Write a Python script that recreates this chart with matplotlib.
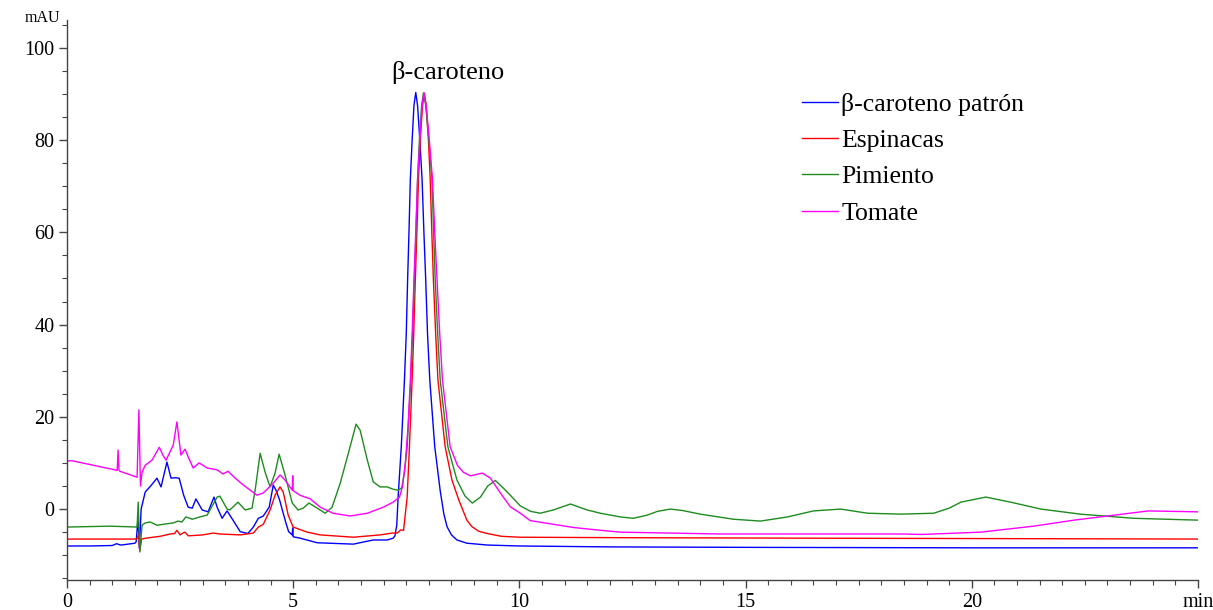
import matplotlib
matplotlib.use('Agg')
import matplotlib.pyplot as plt
from matplotlib.ticker import MultipleLocator

plt.rcParams['font.family'] = ['Liberation Serif', 'DejaVu Serif']

# retention time (min) / absorbance (mAU)
patron_t = [0, 0.5, 1.0, 1.1, 1.15, 1.2, 1.5, 1.53, 1.57, 1.60, 1.64, 1.73, 1.85, 1.99, 2.08,
            2.21, 2.30, 2.40, 2.48, 2.58, 2.68, 2.77, 2.85, 2.99, 3.12, 3.25, 3.32, 3.43, 3.54,
            3.67, 3.83, 4.0, 4.12, 4.23, 4.34, 4.47, 4.56, 4.62, 4.70, 4.76, 4.84, 4.90, 4.98,
            4.99, 5.0, 5.15, 5.53, 6.33, 6.77, 7.08, 7.21, 7.25, 7.29, 7.32, 7.39, 7.46, 7.50,
            7.53, 7.56, 7.59, 7.63, 7.67, 7.71, 7.75, 7.80, 7.85, 7.89, 7.93, 7.97, 8.02, 8.13,
            8.25, 8.33, 8.40, 8.50, 8.62, 8.84, 9.3, 10.0, 12.0, 15.0, 20.0, 25.0]
patron_y = [-8.0, -8.0, -7.9, -7.5, -7.7, -7.8, -7.4, -7.1, -2.0, -8.5, 0.0, 3.7, 5.0, 6.7, 4.8,
            10.2, 6.7, 6.8, 6.7, 3.0, 0.4, 0.2, 2.2, -0.2, -0.6, 2.6, 0.4, -2.0, -0.4,
            -2.4, -4.9, -5.3, -3.9, -2.0, -1.5, 0.4, 5.2, 4.1, 2.0, -0.2, -3.0, -4.9, -5.6,
            -4.1, -6.0, -6.3, -7.3, -7.6, -6.7, -6.7, -6.3, -5.8, -3.5, 2.6, 13.5, 28.0, 38.0,
            49.7, 60.0, 71.4, 80.0, 87.5, 90.3, 87.5, 80.0, 71.4, 60.0, 49.7, 38.0, 28.0, 13.5,
            4.0, -1.0, -3.8, -5.6, -6.7, -7.4, -7.8, -8.0, -8.2, -8.3, -8.4, -8.4]

espinacas_t = [0, 1.0, 1.5, 1.55, 1.58, 1.61, 1.65, 1.75, 1.9, 2.06, 2.28, 2.38, 2.43, 2.50,
               2.56, 2.61, 2.68, 3.0, 3.23, 3.38, 3.83, 4.12, 4.23, 4.34, 4.49, 4.60, 4.71,
               4.78, 4.89, 5.0, 5.31, 5.6, 6.33, 6.92, 7.19, 7.30, 7.38, 7.44, 7.52, 7.57,
               7.63, 7.665, 7.70, 7.735, 7.77, 7.81, 7.86, 7.90, 7.94, 7.99, 8.03, 8.065,
               8.10, 8.15, 8.20, 8.36, 8.51, 8.66, 8.84, 8.95, 9.10, 9.29, 9.6, 10.0, 12.2,
               16.0, 25.0]
espinacas_y = [-6.5, -6.5, -6.5, -6.4, -5.5, -9.0, -6.5, -6.3, -6.1, -5.9, -5.4, -5.3, -4.6, -5.6,
               -5.2, -5.0, -5.8, -5.6, -5.2, -5.4, -5.6, -5.2, -3.9, -3.3, -0.2, 3.0, 4.8,
               3.7, -1.3, -3.9, -5.0, -5.6, -6.1, -5.6, -5.2, -5.2, -4.5, -4.6, 2.6, 13.5,
               28.0, 38.0, 49.7, 60.0, 71.4, 80.0, 87.5, 90.2, 87.5, 80.0, 71.4, 60.0,
               49.7, 38.0, 28.0, 13.5, 6.3, 2.0, -2.4, -3.8, -4.8, -5.3, -5.9, -6.1, -6.2,
               -6.3, -6.5]

pimiento_t = [0, 0.95, 1.55, 1.575, 1.61, 1.66, 1.73, 1.84, 1.99, 2.35, 2.46, 2.54, 2.63, 2.77,
              2.94, 3.10, 3.32, 3.38, 3.54, 3.60, 3.78, 3.94, 4.09, 4.16, 4.27, 4.38, 4.49,
              4.60, 4.69, 4.82, 4.98, 5.11, 5.22, 5.35, 5.53, 5.71, 5.86, 6.04, 6.22, 6.39,
              6.48, 6.64, 6.77, 6.92, 7.08, 7.21, 7.32, 7.40, 7.46, 7.52, 7.60, 7.64, 7.68,
              7.715, 7.75, 7.79, 7.84, 7.88, 7.93, 8.00, 8.07, 8.105, 8.14, 8.195, 8.25, 8.42,
              8.62, 8.80, 8.96, 9.14, 9.30, 9.47, 9.65, 9.80, 10.02, 10.25, 10.46, 10.75,
              11.13, 11.5, 11.79, 12.23, 12.52, 12.83, 13.05, 13.34, 13.6, 14.0, 14.73, 15.33,
              15.93, 16.5, 17.1, 17.7, 18.43, 19.16, 19.5, 19.76, 20.31, 20.86, 21.53, 22.4,
              23.58, 25.0]
pimiento_y = [-3.9, -3.7, -3.9, 1.5, -9.3, -3.5, -3.0, -2.8, -3.5, -3.0, -2.6, -2.8, -1.7, -2.2,
              -1.7, -1.3, 2.6, 2.8, 0.0, -0.2, 1.5, -0.2, 0.2, 4.1, 12.1, 8.0, 4.8,
              7.8, 11.9, 7.4, 1.3, -0.2, 0.2, 1.3, 0.2, -0.9, 0.4, 5.6, 12.1, 18.4,
              17.1, 10.6, 5.9, 4.8, 4.8, 4.3, 4.1, 4.6, 8.0, 13.5, 28.0, 38.0, 49.7,
              60.0, 71.4, 80.0, 87.5, 90.2, 87.5, 80.0, 71.4, 60.0, 49.7, 38.0, 28.0, 13.5,
              6.3, 2.8, 1.3, 2.6, 5.0, 6.2, 4.5, 3.0, 0.7, -0.5, -0.9, -0.2,
              1.1, -0.2, -0.9, -1.7, -2.0, -1.3, -0.5, 0.0, -0.3, -1.1, -2.2, -2.6,
              -1.7, -0.4, 0.0, -0.9, -1.1, -0.9, 0.2, 1.5, 2.6, 1.5, 0.0, -1.1,
              -2.0, -2.4]

tomate_t = [0, 0.1, 1.06, 1.11, 1.13, 1.15, 1.17, 1.55, 1.59, 1.625, 1.66, 1.73, 1.88, 2.04,
            2.12, 2.19, 2.35, 2.43, 2.52, 2.61, 2.68, 2.79, 2.92, 3.10, 3.32, 3.45, 3.56,
            3.72, 3.90, 4.05, 4.20, 4.34, 4.56, 4.71, 4.82, 4.98, 4.99, 5.0, 5.15, 5.38,
            5.6, 5.88, 6.26, 6.64, 6.99, 7.21, 7.35, 7.42, 7.48, 7.54, 7.59, 7.63, 7.67,
            7.71, 7.75, 7.80, 7.85, 7.89, 7.94, 8.01, 8.08, 8.13, 8.18, 8.24, 8.30, 8.47,
            8.63, 8.76, 8.92, 9.05, 9.18, 9.36, 9.58, 9.80, 10.02, 10.24, 10.69, 11.2,
            11.79, 12.23, 14.4, 18.43, 18.9, 20.2, 21.37, 22.26, 23.0, 23.9, 25.0]
tomate_y = [10.4, 10.5, 8.5, 8.4, 12.8, 8.4, 8.2, 6.9, 21.5, 5.0, 8.0, 9.5, 10.6, 13.4,
            11.7, 10.6, 13.9, 18.9, 11.7, 13.0, 11.3, 8.9, 10.0, 8.9, 8.5, 7.6, 8.2,
            6.7, 5.2, 4.1, 3.0, 3.5, 5.6, 7.4, 6.3, 4.1, 7.2, 4.0, 3.0, 2.2,
            0.4, -0.9, -1.5, -0.9, 0.4, 1.5, 2.6, 5.0, 10.0, 18.0, 28.0, 38.0, 49.7,
            60.0, 71.4, 80.0, 87.5, 90.2, 87.5, 80.0, 71.4, 60.0, 49.7, 38.0, 28.0, 13.5,
            9.5, 8.0, 7.2, 7.5, 7.8, 6.7, 3.5, 0.5, -0.9, -2.5, -3.2, -4.0,
            -4.6, -5.0, -5.4, -5.4, -5.5, -5.0, -3.7, -2.4, -1.5, -0.4, -0.6]

series = [
    ('β-caroteno patrón', patron_t, patron_y, '#0000ff'),
    ('Espinacas', espinacas_t, espinacas_y, '#ff0000'),
    ('Pimiento', pimiento_t, pimiento_y, '#1e8c1e'),
    ('Tomate', tomate_t, tomate_y, '#ff00ff'),
]

fig = plt.figure(figsize=(12.13, 6.10), dpi=100)
ax = fig.add_axes([0.0552, 0.049, 0.9324, 0.918])

for name, t, y, c in series:
    ax.plot(t, y, color=c, lw=1.0, label=name, solid_joinstyle='round')

ax.set_xlim(0, 25)
ax.set_ylim(-15.4, 106)

ax.xaxis.set_minor_locator(MultipleLocator(0.5))
ax.yaxis.set_minor_locator(MultipleLocator(5))
ax.set_xticks([0, 5, 10, 15, 20, 25])
ax.set_xticklabels(['0', '5', '10', '15', '20', 'min'])
ax.set_yticks([0, 20, 40, 60, 80, 100])

for s in ['top', 'right']:
    ax.spines[s].set_visible(False)
for s in ['left', 'bottom']:
    ax.spines[s].set_color('#444444')
    ax.spines[s].set_linewidth(1.0)
ax.tick_params(which='major', direction='out', length=6, width=1, color='#444444',
               labelsize=14.5, pad=3)
ax.tick_params(which='minor', direction='out', length=3.5, width=0.8, color='#444444')

ax.text(-0.006, 1.004, 'mAU', transform=ax.transAxes, ha='right', va='center', fontsize=11.5)
ax.text(8.43, 94.6, 'β-caroteno', ha='center', va='center', fontsize=19)

ax.legend(loc='upper left', bbox_to_anchor=(0.641, 0.8877), frameon=False, fontsize=18.5,
          handlelength=1.4, handletextpad=0.12, labelspacing=0.51, borderaxespad=0)

fig.savefig('out.png', dpi=100)
